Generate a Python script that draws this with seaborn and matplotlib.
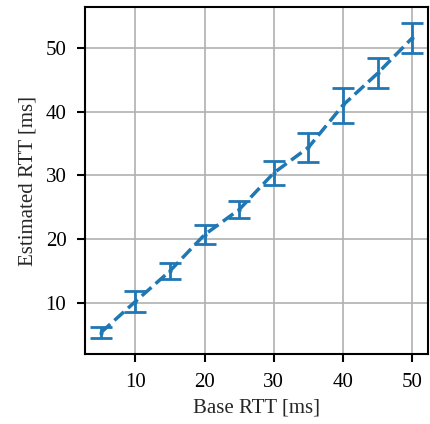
import matplotlib
matplotlib.use("Agg")
import matplotlib.pyplot as plt
import numpy as np
import pandas as pd
import seaborn as sns

# values
base_rtt = [5, 10, 15, 20, 25, 30, 35, 40, 45, 50]
est_rtt = [5.3, 10.2, 15.0, 20.7, 24.65, 30.4, 34.4, 41.05, 46.05, 51.6]
est_err = [0.87, 1.7, 1.3, 1.45, 1.35, 1.9, 2.3, 2.75, 2.35, 2.35]

df = pd.DataFrame({"base": base_rtt, "est": est_rtt, "err": est_err})
blue = "#1f77b4"

sns.set_theme(style="ticks", rc={
    "axes.grid": True,
    "grid.color": "#b0b0b0",
    "grid.linewidth": 1.2,
    "axes.edgecolor": "black",
    "axes.linewidth": 1.5,
    "xtick.direction": "out",
    "ytick.direction": "out",
})
plt.rcParams["font.family"] = ["Liberation Serif", "DejaVu Serif"]

fig, ax = plt.subplots(figsize=(4.3, 4.24), dpi=100)

sns.lineplot(data=df, x="base", y="est", ax=ax, color=blue,
             linestyle="--", linewidth=2.5, marker="o", markersize=3,
             markeredgewidth=0)
ax.errorbar(df["base"], df["est"], yerr=df["err"], fmt="none",
            ecolor=blue, elinewidth=2, capsize=8, capthick=2)

ax.set_xticks([10, 20, 30, 40, 50])
ax.set_yticks([10, 20, 30, 40, 50])
ax.tick_params(labelsize=15, length=5.5, width=1.5, pad=8, colors="black")
ax.set_xlabel("Base RTT [ms]", fontsize=15, labelpad=5)
ax.set_ylabel("Estimated RTT [ms]", fontsize=15, labelpad=6)

fig.subplots_adjust(left=0.198, right=0.995, top=0.983, bottom=0.165)
fig.savefig("out.png", dpi=100)
